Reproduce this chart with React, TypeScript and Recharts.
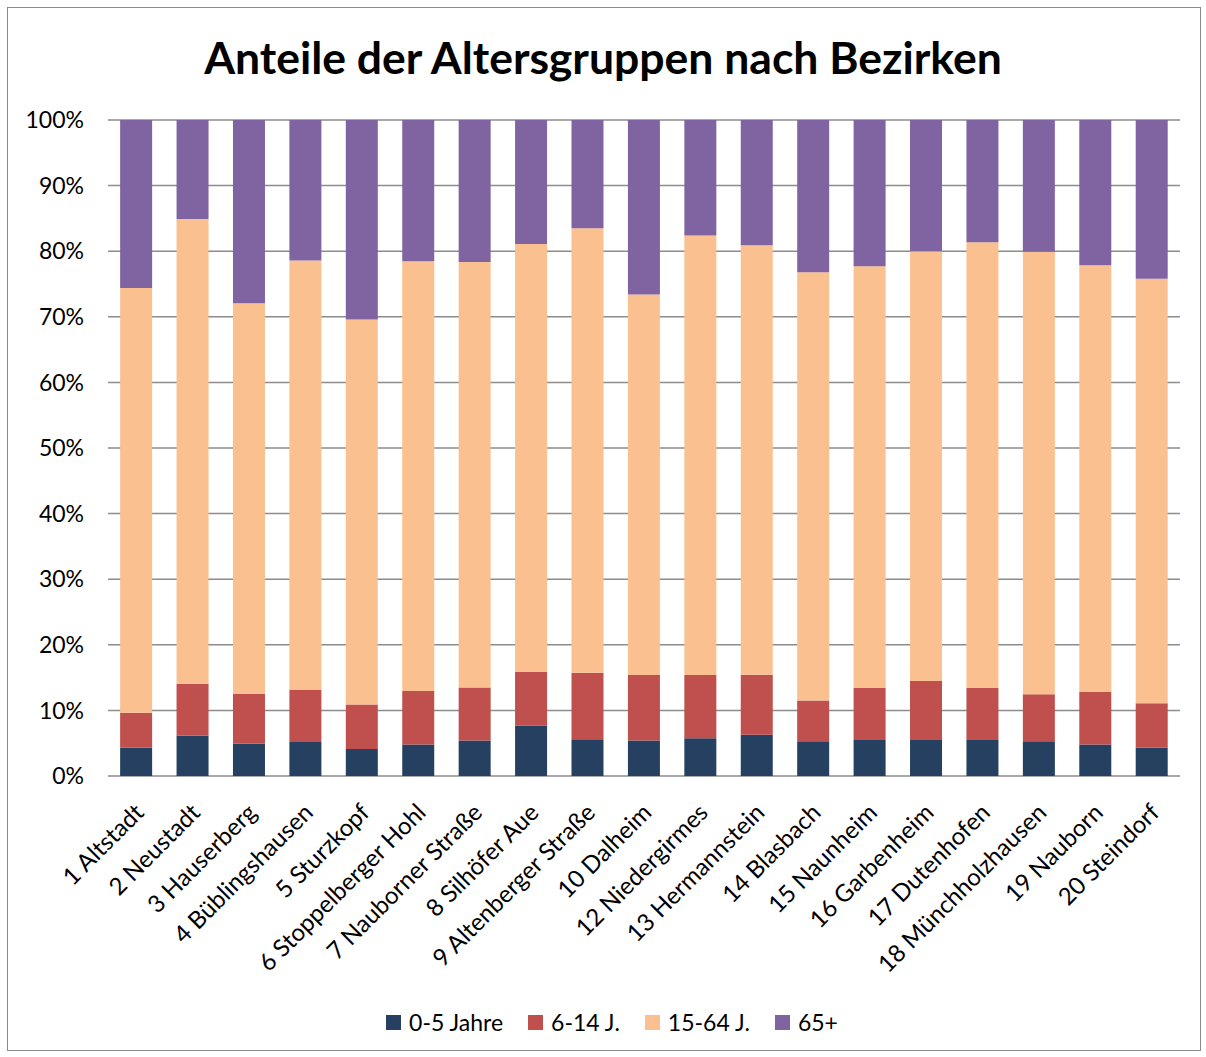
import React from "react";
import {
  BarChart,
  Bar,
  XAxis,
  YAxis,
  CartesianGrid,
  Legend,
} from "recharts";

const districts = [
  "1 Altstadt",
  "2 Neustadt",
  "3 Hauserberg",
  "4 Büblingshausen",
  "5 Sturzkopf",
  "6 Stoppelberger Hohl",
  "7 Nauborner Straße",
  "8 Silhöfer Aue",
  "9 Altenberger Straße",
  "10 Dalheim",
  "12 Niedergirmes",
  "13 Hermannstein",
  "14 Blasbach",
  "15 Naunheim",
  "16 Garbenheim",
  "17 Dutenhofen",
  "18 Münchholzhausen",
  "19 Nauborn",
  "20 Steindorf",
];

// shares in percent
const age0to5 = [4.3, 6.15, 4.9, 5.2, 4.1, 4.8, 5.4, 7.7, 5.6, 5.4, 5.75, 6.3, 5.3, 5.5, 5.5, 5.5, 5.3, 4.8, 4.3];
const age6to14 = [5.35, 7.9, 7.65, 7.9, 6.8, 8.15, 8.1, 8.2, 10.15, 10.0, 9.65, 9.15, 6.2, 7.95, 9.0, 7.95, 7.15, 8.0, 6.8];
const age15to64 = [64.75, 70.85, 59.5, 65.5, 58.7, 65.5, 64.85, 65.2, 67.75, 58.0, 67.0, 65.45, 65.3, 64.25, 65.5, 67.9, 67.45, 65.05, 64.7];
const age65plus = [25.6, 15.1, 27.95, 21.4, 30.4, 21.55, 21.65, 18.9, 16.5, 26.6, 17.6, 19.1, 23.2, 22.3, 20.0, 18.65, 20.1, 22.15, 24.2];

const seriesNames = ["0-5 Jahre", "6-14 J.", "15-64 J.", "65+"];
const seriesColors = ["#254061", "#C0504D", "#FAC090", "#8064A2"];
const seriesKeys = ["a", "b", "c", "d"];

const yTicks = [0, 10, 20, 30, 40, 50, 60, 70, 80, 90, 100];

const data = districts.map((name, i) => ({
  name,
  a: age0to5[i],
  b: age6to14[i],
  c: age15to64[i],
  d: age65plus[i],
}));

const font = "Lato, 'Open Sans', sans-serif";

function DistrictTick(props: any) {
  const { x, y, payload } = props;
  return (
    <g transform={`translate(${x - 3},${y + 18})`}>
      <text
        x={0}
        y={0}
        dy="0.71em"
        textAnchor="end"
        transform="rotate(-45)"
        fill="#000"
        fontSize={24}
        fontFamily={font}
      >
        {payload.value}
      </text>
    </g>
  );
}

function LegendBox() {
  return (
    <div
      style={{
        display: "flex",
        justifyContent: "center",
        alignItems: "center",
        fontFamily: font,
        fontSize: 23,
        color: "#000",
        height: 30,
        paddingLeft: 44,
      }}
    >
      {seriesNames.map((n, i) => (
        <div
          key={n}
          style={{ display: "flex", alignItems: "center", marginRight: i < seriesNames.length - 1 ? 25 : 0 }}
        >
          <span
            style={{
              display: "inline-block",
              width: 15,
              height: 15,
              background: seriesColors[i],
              marginRight: 8,
            }}
          />
          <span>{n}</span>
        </div>
      ))}
    </div>
  );
}

export default function App() {
  return (
    <div
      style={{
        position: "absolute",
        left: 0,
        top: 0,
        width: 1206,
        height: 1057,
        background: "#fff",
        fontFamily: font,
      }}
    >
      <div
        style={{
          position: "absolute",
          left: 7,
          top: 7,
          width: 1192,
          height: 1042,
          border: "1px solid #8a8a8a",
        }}
      />
      <div
        style={{
          position: "absolute",
          left: 0,
          width: 1206,
          top: 30,
          textAlign: "center",
          fontSize: 44.5,
          fontWeight: 700,
          color: "#000",
        }}
      >
        Anteile der Altersgruppen nach Bezirken
      </div>
      <div style={{ position: "absolute", left: 0, top: 0 }}>
        <BarChart
          width={1206}
          height={1057}
          data={data}
          margin={{ top: 120, right: 26, left: 0, bottom: 20 }}
          barCategoryGap="21.5%"
        >
          <CartesianGrid vertical={false} stroke="#8c8c8c" strokeWidth={1.5} />
          <XAxis
            dataKey="name"
            interval={0}
            height={231}
            axisLine={false}
            tickLine={false}
            tick={<DistrictTick />}
          />
          <YAxis
            width={108}
            domain={[0, 100]}
            ticks={yTicks}
            tickFormatter={(v) => `${v}%`}
            axisLine={false}
            tickLine={false}
            tickMargin={18}
            tick={{ fill: "#000", fontSize: 23, fontFamily: font }}
          />
          <Legend verticalAlign="bottom" align="center" height={30} content={() => <LegendBox />} />
          {seriesKeys.map((k, i) => (
            <Bar
              key={k}
              dataKey={k}
              name={seriesNames[i]}
              stackId="s"
              fill={seriesColors[i]}
              isAnimationActive={false}
            />
          ))}
        </BarChart>
      </div>
    </div>
  );
}
